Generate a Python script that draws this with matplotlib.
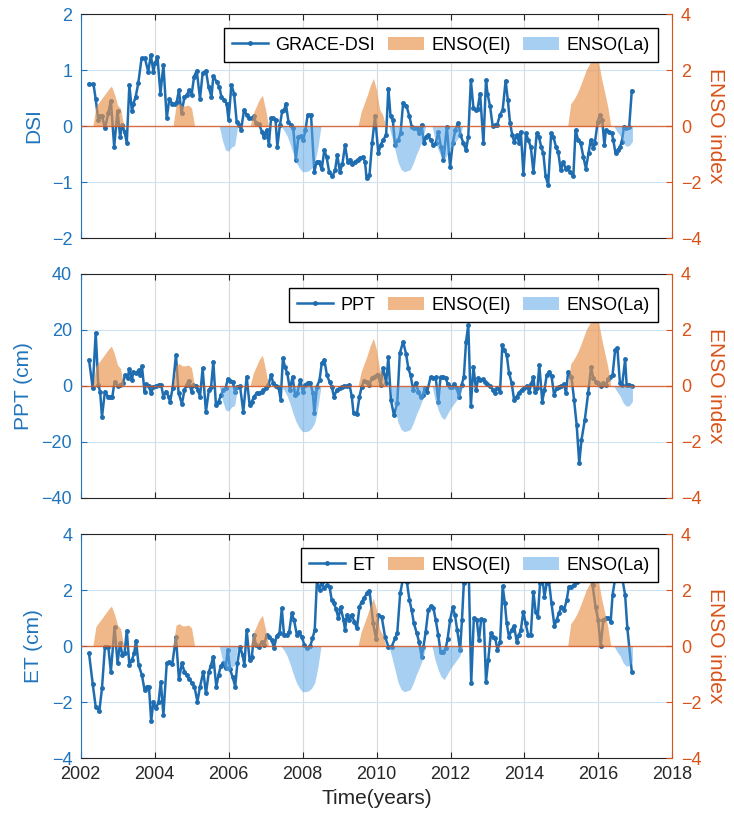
import numpy as np
import matplotlib.pyplot as plt
from matplotlib.lines import Line2D
from matplotlib.patches import Patch

plt.rcParams['font.family'] = ['Liberation Sans', 'DejaVu Sans']

# ---- data ----
# monthly ENSO index, Jan 2002 .. Dec 2016 (0 = neutral)
enso = [
    0, 0, 0, 0, 0, 0.7, 0.85, 1.0, 1.15, 1.3, 1.43, 1.15,            # 2002
    0.75, 0.62, 0, 0, 0, 0, 0, 0, 0, 0, 0, 0,                        # 2003
    0, 0, 0, 0, 0, 0, 0, 0.75, 0.8, 0.72, 0.72, 0.75,                # 2004
    0.65, 0, 0, 0, 0, 0, 0, 0, 0, 0, -0.5, -0.85,                    # 2005
    -0.9, -0.75, -0.7, 0, 0, 0, 0, 0, 0.45, 0.7, 0.95, 1.1,          # 2006
    0.6, 0, 0, 0, 0, 0, -0.15, -0.35, -0.65, -1.0, -1.3, -1.5,       # 2007
    -1.63, -1.63, -1.6, -1.5, -1.3, -0.75, 0, 0, 0, 0, 0, 0,         # 2008
    0, 0, 0, 0, 0, 0, 0, 0.5, 0.8, 1.1, 1.45, 1.7,                   # 2009
    1.3, 0.6, 0.4, 0, 0, -0.4, -0.85, -1.3, -1.55, -1.63, -1.6, -1.55,  # 2010
    -1.3, -1.0, -0.75, -0.45, 0, 0, 0, -0.5, -0.85, -1.1, -1.2, -1.0,   # 2011
    -0.8, -0.65, -0.5, -0.35, 0, 0, 0, 0, 0, 0, 0, 0,                # 2012
    0, 0, 0, 0, 0, 0, 0, 0, 0, 0, 0, 0,                              # 2013
    0, 0, 0, 0, 0, 0, 0, 0, 0, 0, 0, 0,                              # 2014
    0, 0, 0, 0.8, 0.95, 1.15, 1.4, 1.7, 2.0, 2.2, 2.4, 2.4,          # 2015
    2.3, 1.7, 1.2, 0.7, 0, 0, -0.2, -0.35, -0.6, -0.72, -0.7, -0.55,  # 2016
]

dsi_t = [2002.23, 2002.35, 2002.41, 2002.48, 2002.53, 2002.58, 2002.66, 2002.75, 2002.82, 2002.91,
         2003.00, 2003.07, 2003.13, 2003.19, 2003.25, 2003.32, 2003.39, 2003.43, 2003.49, 2003.56,
         2003.65, 2003.74, 2003.83, 2003.90, 2003.97, 2004.01, 2004.08, 2004.16, 2004.24, 2004.33,
         2004.40, 2004.48, 2004.55, 2004.60, 2004.66, 2004.73, 2004.81, 2004.87, 2004.94, 2005.00,
         2005.07, 2005.14, 2005.23, 2005.30, 2005.39, 2005.46, 2005.54, 2005.59, 2005.68, 2005.75,
         2005.81, 2005.89, 2005.95, 2006.00, 2006.08, 2006.15, 2006.22, 2006.29, 2006.34, 2006.42,
         2006.49, 2006.56, 2006.63, 2006.69, 2006.74, 2006.82, 2006.90, 2006.96, 2007.03, 2007.09,
         2007.15, 2007.21, 2007.27, 2007.32, 2007.39, 2007.45, 2007.51, 2007.55, 2007.62, 2007.68,
         2007.75, 2007.82, 2007.89, 2007.95, 2008.02, 2008.08, 2008.14, 2008.23, 2008.32, 2008.38,
         2008.44, 2008.52, 2008.59, 2008.65, 2008.72, 2008.81, 2008.88, 2008.94, 2009.01, 2009.08,
         2009.15, 2009.22, 2009.28, 2009.35, 2009.42, 2009.49, 2009.55, 2009.63, 2009.69, 2009.73,
         2009.81, 2009.88, 2009.96, 2010.05, 2010.11, 2010.18, 2010.26, 2010.32, 2010.38, 2010.44,
         2010.50, 2010.59, 2010.65, 2010.72, 2010.81, 2010.89, 2010.95, 2011.02, 2011.09, 2011.15,
         2011.22, 2011.28, 2011.34, 2011.40, 2011.46, 2011.54, 2011.60, 2011.67, 2011.74, 2011.81,
         2011.90, 2011.99, 2012.06, 2012.13, 2012.21, 2012.27, 2012.35, 2012.42, 2012.48, 2012.55,
         2012.62, 2012.69, 2012.73, 2012.80, 2012.89, 2012.96, 2013.00, 2013.07, 2013.14, 2013.20,
         2013.26, 2013.34, 2013.41, 2013.49, 2013.55, 2013.61, 2013.67, 2013.72, 2013.79, 2013.86,
         2013.90, 2013.97, 2014.04, 2014.10, 2014.17, 2014.24, 2014.33, 2014.39, 2014.45, 2014.51,
         2014.57, 2014.64, 2014.72, 2014.78, 2014.85, 2014.91, 2014.98, 2015.05, 2015.11, 2015.17,
         2015.23, 2015.32, 2015.38, 2015.45, 2015.52, 2015.59, 2015.66, 2015.73, 2015.79, 2015.86,
         2015.90, 2015.98, 2016.04, 2016.10, 2016.16, 2016.20, 2016.28, 2016.36, 2016.40, 2016.46,
         2016.52, 2016.58, 2016.63, 2016.69, 2016.74, 2016.83, 2016.90]
dsi = [0.75, 0.75, 0.48, 0.11, 0.18, 0.18, -0.04, 0.23, 0.45, -0.37,
       0.27, -0.19, 0.02, -0.10, -0.30, 0.73, 0.26, 0.40, 0.52, 0.76,
       1.21, 1.21, 0.97, 1.27, 0.97, 1.12, 1.23, 0.58, 1.09, 0.14,
       0.48, 0.40, 0.39, 0.43, 0.64, 0.23, 0.52, 0.55, 0.64, 0.55,
       0.88, 0.99, 0.49, 0.94, 0.99, 0.70, 0.52, 0.89, 0.79, 0.70,
       0.52, 0.46, 0.40, 0.11, 0.73, 0.58, 0.08, 0.02, -0.07, 0.29,
       0.20, 0.14, 0.14, 0.17, 0.05, 0.04, -0.10, -0.20, -0.07, -0.34,
       0.14, 0.14, 0.11, -0.37, 0.02, 0.26, 0.29, 0.40, 0.08, 0.02,
       -0.04, -0.60, -0.19, -0.18, -0.25, -0.07, 0.20, 0.20, -0.82, -0.64,
       -0.64, -0.77, -0.43, -0.55, -0.82, -0.90, -0.79, -0.52, -0.82, -0.67,
       -0.34, -0.64, -0.60, -0.67, -0.64, -0.60, -0.57, -0.55, -0.64, -0.93,
       -0.88, -0.31, 0.17, -0.49, -0.34, -0.25, -0.16, 0.67, 0.17, 0.11,
       -0.34, -0.25, -0.13, 0.42, 0.36, 0.17, -0.01, -0.03, -0.04, -0.12,
       0.02, -0.31, -0.19, -0.16, -0.25, -0.34, -0.31, -0.10, -0.37, -0.61,
       -0.01, -0.73, -0.31, -0.07, 0.06, -0.16, -0.31, -0.43, -0.19, 0.82,
       0.32, 0.29, 0.30, 0.58, -0.31, 0.82, 0.58, 0.35, 0.00, 0.02,
       0.02, 0.20, 0.29, 0.81, 0.46, 0.05, -0.16, -0.28, -0.16, -0.31,
       -0.10, -0.85, -0.13, -0.25, -0.37, -0.82, -0.13, -0.19, -0.37, -0.49,
       -0.90, -1.05, -0.13, -0.19, -0.37, -0.46, -0.79, -0.64, -0.76, -0.73,
       -0.82, -0.90, -0.07, -0.25, -0.31, -0.55, -0.76, -0.49, -0.25, -0.40,
       -0.31, 0.08, 0.20, 0.11, -0.34, -0.07, -0.10, -0.13, -0.25, -0.49,
       -0.43, -0.37, -0.28, -0.01, -0.04, -0.01, 0.63]

ppt_t = [2002.23, 2002.33, 2002.41, 2002.48, 2002.53, 2002.58, 2002.66, 2002.74, 2002.80, 2002.86,
         2002.92, 2003.00, 2003.07, 2003.14, 2003.21, 2003.27, 2003.32, 2003.39, 2003.43, 2003.50,
         2003.57, 2003.61, 2003.66, 2003.73, 2003.77, 2003.84, 2003.91, 2003.97, 2004.04, 2004.11,
         2004.18, 2004.24, 2004.31, 2004.38, 2004.42, 2004.49, 2004.58, 2004.65, 2004.74, 2004.81,
         2004.87, 2004.92, 2005.00, 2005.05, 2005.11, 2005.17, 2005.23, 2005.30, 2005.39, 2005.47,
         2005.53, 2005.59, 2005.66, 2005.73, 2005.80, 2005.86, 2005.92, 2005.98, 2006.04, 2006.11,
         2006.18, 2006.24, 2006.31, 2006.40, 2006.49, 2006.57, 2006.63, 2006.69, 2006.76, 2006.82,
         2006.90, 2006.94, 2007.01, 2007.08, 2007.15, 2007.21, 2007.28, 2007.35, 2007.41, 2007.47,
         2007.53, 2007.59, 2007.66, 2007.73, 2007.80, 2007.86, 2007.94, 2008.01, 2008.07, 2008.14,
         2008.21, 2008.28, 2008.32, 2008.39, 2008.46, 2008.52, 2008.59, 2008.66, 2008.73, 2008.79,
         2008.85, 2008.93, 2009.00, 2009.06, 2009.13, 2009.20, 2009.27, 2009.33, 2009.38, 2009.47,
         2009.54, 2009.60, 2009.66, 2009.74, 2009.81, 2009.87, 2009.93, 2010.01, 2010.05, 2010.11,
         2010.18, 2010.26, 2010.32, 2010.39, 2010.47, 2010.56, 2010.63, 2010.72, 2010.80, 2010.86,
         2010.92, 2010.99, 2011.06, 2011.13, 2011.19, 2011.25, 2011.31, 2011.37, 2011.46, 2011.54,
         2011.60, 2011.67, 2011.73, 2011.81, 2011.88, 2011.92, 2011.99, 2012.05, 2012.10, 2012.17,
         2012.23, 2012.30, 2012.36, 2012.42, 2012.48, 2012.55, 2012.62, 2012.69, 2012.75, 2012.80,
         2012.87, 2012.93, 2012.99, 2013.07, 2013.14, 2013.20, 2013.27, 2013.34, 2013.40, 2013.45,
         2013.52, 2013.58, 2013.65, 2013.72, 2013.79, 2013.85, 2013.92, 2013.99, 2014.06, 2014.13,
         2014.18, 2014.24, 2014.28, 2014.35, 2014.40, 2014.48, 2014.54, 2014.60, 2014.67, 2014.73,
         2014.80, 2014.87, 2014.93, 2015.00, 2015.07, 2015.12, 2015.18, 2015.27, 2015.34, 2015.41,
         2015.48, 2015.54, 2015.63, 2015.72, 2015.80, 2015.86, 2015.93, 2015.99, 2016.06, 2016.13,
         2016.19, 2016.27, 2016.31, 2016.38, 2016.45, 2016.51, 2016.58, 2016.64, 2016.72, 2016.76,
         2016.83, 2016.90]
ppt = [9.3, -0.8, 19.0, 0.4, -2.0, -11.0, -2.0, -3.8, -3.8, -3.8,
       1.5, 0.0, 0.4, 1.0, 3.9, 2.7, 6.0, 2.1, 5.1, 4.5,
       5.7, 3.9, 7.1, -2.0, 0.7, 0.0, -2.6, -0.2, 0.0, 0.4,
       0.4, -3.8, -2.0, -3.8, -5.6, -0.8, 11.1, -2.4, -6.4, -1.4,
       0.4, 1.9, -2.0, 0.4, 0.0, -1.4, -3.8, 6.3, -9.2, -1.4,
       -0.2, 8.7, -6.8, -5.6, -3.2, -1.4, -0.8, 2.4, 1.9, 1.5,
       -2.0, -0.2, 0.0, -9.2, 3.3, -6.8, -5.6, -3.8, -2.6, -2.6,
       -2.0, -1.4, -0.8, 0.4, 3.9, 1.0, 0.0, -0.2, -5.0, 9.9,
       6.7, 4.5, -1.4, 3.3, -3.2, -2.4, 2.1, -2.0, 0.4, 1.2,
       1.2, -2.6, -9.5, -0.2, 2.1, 8.1, 9.3, 3.9, 1.5, -0.2,
       -3.8, -1.4, -0.8, -0.2, 0.0, 0.0, 0.4, -3.6, -9.8, -10.0,
       -3.8, -0.2, 1.9, 1.5, 0.4, 2.7, 3.1, 3.9, 3.9, 0.4,
       6.3, 1.0, 10.2, -5.0, -10.4, -6.2, 11.7, 15.8, 11.4, 6.3,
       3.9, -1.4, 1.2, -2.0, -3.8, -3.2, -0.8, -2.0, 3.1, 2.7,
       3.1, -5.6, 3.1, 3.1, 2.7, 0.7, -0.5, -0.2, 0.7, -0.8,
       -3.8, 0.4, 3.1, 15.8, 21.8, -7.1, 6.9, -1.4, 2.7, 2.1,
       2.4, 1.5, 0.7, 0.0, -1.4, -2.4, -0.8, -2.0, 14.6, 12.9,
       11.1, 4.8, 1.2, -5.0, -3.8, -2.4, -1.4, -0.8, 0.0, -2.0,
       0.7, 3.1, -2.0, -0.8, 7.5, -5.6, -1.4, 3.9, 5.1, 3.6,
       -3.2, -0.8, -0.2, 0.0, 0.7, -2.6, 5.1, 3.3, -5.0, -13.9,
       -27.6, -19.3, -12.1, -2.6, 6.7, 2.7, 1.5, 1.2, 0.0, 1.0,
       0.4, 2.4, 3.3, 3.9, 12.9, 13.5, 1.0, 0.4, 9.5, 0.4,
       0.4, 0.0]

et_t = [2002.23, 2002.33, 2002.41, 2002.51, 2002.58, 2002.66, 2002.75, 2002.82, 2002.92, 2003.00,
        2003.07, 2003.13, 2003.19, 2003.25, 2003.32, 2003.39, 2003.45, 2003.50, 2003.57, 2003.66,
        2003.73, 2003.79, 2003.85, 2003.91, 2003.97, 2004.04, 2004.11, 2004.17, 2004.24, 2004.33,
        2004.40, 2004.48, 2004.58, 2004.66, 2004.74, 2004.81, 2004.87, 2004.94, 2005.01, 2005.08,
        2005.16, 2005.23, 2005.32, 2005.39, 2005.47, 2005.52, 2005.59, 2005.67, 2005.73, 2005.79,
        2005.86, 2005.92, 2005.98, 2006.04, 2006.11, 2006.18, 2006.24, 2006.31, 2006.38, 2006.43,
        2006.49, 2006.57, 2006.63, 2006.69, 2006.74, 2006.82, 2006.90, 2006.96, 2007.03, 2007.10,
        2007.17, 2007.23, 2007.30, 2007.38, 2007.44, 2007.50, 2007.58, 2007.64, 2007.71, 2007.77,
        2007.85, 2007.91, 2007.98, 2008.05, 2008.12, 2008.21, 2008.27, 2008.33, 2008.39, 2008.46,
        2008.52, 2008.58, 2008.66, 2008.73, 2008.79, 2008.85, 2008.91, 2008.97, 2009.03, 2009.11,
        2009.15, 2009.20, 2009.27, 2009.33, 2009.40, 2009.47, 2009.54, 2009.60, 2009.66, 2009.74,
        2009.81, 2009.91, 2009.99, 2010.05, 2010.14, 2010.23, 2010.32, 2010.41, 2010.50, 2010.56,
        2010.64, 2010.71, 2010.77, 2010.82, 2010.89, 2010.95, 2011.01, 2011.09, 2011.15, 2011.22,
        2011.27, 2011.33, 2011.40, 2011.47, 2011.54, 2011.60, 2011.67, 2011.73, 2011.81, 2011.87,
        2011.92, 2011.99, 2012.06, 2012.12, 2012.18, 2012.26, 2012.31, 2012.36, 2012.42, 2012.49,
        2012.56, 2012.63, 2012.71, 2012.77, 2012.83, 2012.90, 2012.96, 2013.02, 2013.09, 2013.15,
        2013.21, 2013.27, 2013.34, 2013.41, 2013.47, 2013.52, 2013.58, 2013.65, 2013.72, 2013.79,
        2013.85, 2013.90, 2013.97, 2014.03, 2014.10, 2014.17, 2014.24, 2014.30, 2014.36, 2014.42,
        2014.48, 2014.54, 2014.60, 2014.66, 2014.73, 2014.81, 2014.87, 2014.93, 2015.00, 2015.07,
        2015.14, 2015.20, 2015.27, 2015.34, 2015.41, 2015.47, 2015.59, 2015.72, 2015.84, 2015.92,
        2015.99, 2016.06, 2016.13, 2016.19, 2016.27, 2016.33, 2016.38, 2016.45, 2016.51, 2016.58,
        2016.65, 2016.72, 2016.78, 2016.90]
et = [-0.26, -1.36, -2.17, -2.31, -1.51, -0.02, -0.02, -0.92, 0.67, -0.60,
      0.10, -0.32, -0.26, 0.55, -0.68, -0.50, -0.26, 0.19, -0.68, -1.04,
      -1.57, -1.45, -1.45, -2.67, -1.99, -2.23, -1.99, -1.27, -2.46, -0.62,
      -0.56, -0.64, 0.31, -1.19, -0.62, -0.92, -1.04, -1.19, -1.31, -1.45,
      -1.99, -1.45, -0.92, -1.69, -0.92, -0.71, -0.38, -1.45, -1.04, -0.71,
      -0.62, -0.80, -0.14, -0.83, -1.10, -1.45, -0.62, -0.02, -0.32, -0.68,
      0.57, -0.50, -0.38, 0.39, 0.04, -0.02, 0.15, 0.04, 0.39, 0.33,
      0.21, -0.08, 0.36, 0.48, 1.35, 0.39, 0.39, 0.51, 1.17, 0.93,
      0.39, 0.51, 0.33, 0.04, -0.08, 0.00, 0.27, 0.57, 2.36, 2.00,
      2.30, 2.06, 2.18, 2.12, 1.64, 1.52, 1.31, 0.99, 1.38, 0.93,
      0.57, 1.11, 0.93, 1.11, 0.87, 0.63, 1.40, 1.58, 1.70, 1.88,
      1.98, 0.81, 0.24, 1.11, 1.05, 0.33, -0.02, -0.02, 0.27, 0.45,
      1.88, 2.36, 2.60, 2.30, 1.64, 1.29, 0.81, 0.45, 0.15, -0.38,
      -0.02, 0.51, 1.29, 1.43, 1.35, 0.93, 0.39, -0.20, -0.20, -0.08,
      0.24, 0.93, 1.38, 1.11, 0.57, -0.14, 0.93, 2.24, 2.71, 2.83,
      -1.33, 0.99, 0.93, 0.21, 0.95, 0.93, -1.27, -0.50, 0.45, 0.33,
      0.27, -0.14, 0.15, 2.14, 1.52, 0.81, 0.33, 0.57, 0.71, 0.15,
      0.39, 0.57, 1.23, 0.81, 0.39, 0.39, 1.94, 1.23, 1.05, 2.24,
      2.48, 1.76, 2.24, 2.33, 1.52, 0.71, 0.93, 1.17, 1.40, 1.29,
      1.64, 2.12, 2.12, 2.18, 2.30, 2.54, 2.71, 2.71, 2.18, 1.40,
      0.93, 0.00, 0.93, 0.99, 0.99, 0.87, 1.82, 2.42, 2.71, 2.54,
      2.36, 1.82, 0.63, -0.92]

series = [
    (dsi_t, dsi, 'GRACE-DSI', 'DSI', 2, [-2, -1, 0, 1, 2]),
    (ppt_t, ppt, 'PPT', 'PPT (cm)', 40, [-40, -20, 0, 20, 40]),
    (et_t, et, 'ET', 'ET (cm)', 4, [-4, -2, 0, 2, 4]),
]

LINE = '#1f6db1'
LEFT = '#1f74bd'
RIGHT = '#d95319'
EL = '#e9924a'
LA = '#5ea8e6'
DARK = '#262626'

enso = np.array(enso)
enso_t = 2002 + np.arange(len(enso)) / 12.0

fig = plt.figure(figsize=(7.34, 8.25), dpi=100)
bottoms = [0.7115, 0.3964, 0.0812]

for i, (t, v, name, ylab, lim, yt) in enumerate(series):
    ax = fig.add_axes([0.1097, bottoms[i], 0.8065, 0.2715])
    ax.plot(t, v, '-', marker='.', color=LINE, lw=1.8, ms=5, zorder=3)
    ax.set_xlim(2002, 2018)
    ax.set_ylim(-lim, lim)
    ax.set_xticks(range(2002, 2019, 2))
    ax.set_yticks(yt)
    ax.grid(axis='x', color='#dadada', lw=0.8)
    ax.grid(axis='y', color='#cfe2f3', lw=0.8)
    ax.set_axisbelow(True)
    ax.tick_params(axis='x', direction='in', top=True, length=4, colors=DARK,
                   labelsize=13, pad=6)
    ax.tick_params(axis='y', direction='in', length=4, colors=LEFT, labelsize=13, pad=6)
    if i < 2:
        ax.tick_params(axis='x', labelbottom=False)
    else:
        ax.set_xlabel('Time(years)', fontsize=15, color=DARK, labelpad=4)
    ax.set_ylabel(ylab, color=LEFT, fontsize=15, labelpad=6)
    ax.spines['left'].set_color(LEFT)
    ax.spines['top'].set_color(DARK)
    ax.spines['bottom'].set_color(DARK)
    ax.spines['right'].set_visible(False)

    ax2 = ax.twinx()
    ax2.fill_between(enso_t, 0, np.clip(enso, 0, None), color=EL, alpha=0.65, lw=0)
    ax2.fill_between(enso_t, 0, np.clip(enso, None, 0), color=LA, alpha=0.55, lw=0)
    ax2.axhline(0, color=RIGHT, lw=1.0, alpha=0.8)
    ax2.set_ylim(-4, 4)
    ax2.set_yticks([-4, -2, 0, 2, 4])
    ax2.tick_params(axis='y', direction='in', length=4, colors=RIGHT, labelsize=13, pad=6)
    ax2.set_ylabel('ENSO index', color=RIGHT, fontsize=15, rotation=-90, labelpad=17)
    for s in ['left', 'top', 'bottom']:
        ax2.spines[s].set_visible(False)
    ax2.spines['right'].set_color(RIGHT)

    handles = [Line2D([], [], color=LINE, lw=1.8, marker='.', ms=5),
               Patch(facecolor=EL, alpha=0.65, lw=0),
               Patch(facecolor=LA, alpha=0.55, lw=0)]
    leg = ax2.legend(handles, [name, 'ENSO(El)', 'ENSO(La)'], loc='upper right', ncol=3,
                     fontsize=13, frameon=True, fancybox=False, framealpha=1,
                     edgecolor='black', borderaxespad=0.8, handlelength=2.0,
                     handletextpad=0.4, columnspacing=0.7, borderpad=0.45)
    leg.get_frame().set_linewidth(1.0)

fig.savefig('out.png', dpi=100)
